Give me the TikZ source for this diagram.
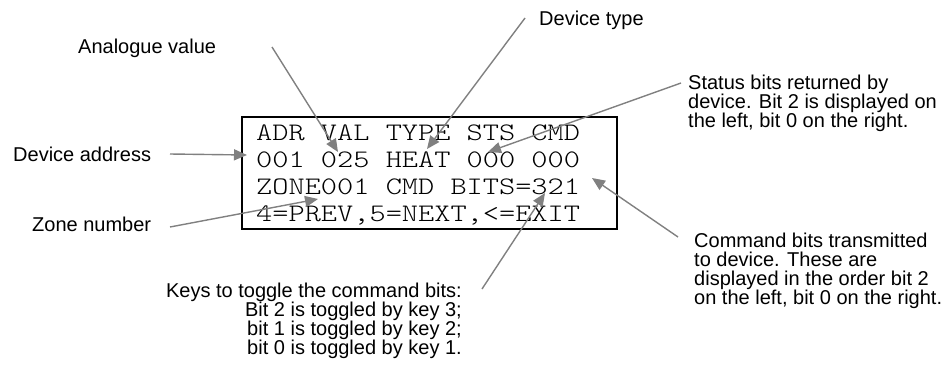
\documentclass[tikz,border=0pt]{standalone}
\usepackage{fontspec}
\setmainfont{Liberation Sans}
\usetikzlibrary{arrows.meta}
\definecolor{arrowgray}{HTML}{808080}
\newcommand\lcdline[1]{\scalebox{1.224}[1]{#1}}
\tikzset{
  lbl/.style={inner sep=0pt, font=\fontsize{20}{19}\selectfont},
  lcd/.style={inner sep=0pt, align=left, font=\fontseries{l}\ttfamily\fontsize{25.2}{27}\selectfont},
  pointer/.style={draw=arrowgray, line width=1.4pt, -{Triangle[length=13pt,width=11pt,fill=arrowgray]}},
  frame/.style={draw=black, line width=2pt}
}
\begin{document}
\begin{tikzpicture}[x=1pt,y=-1pt]
\useasboundingbox (0,0) rectangle (950,368);
% display frame
\draw[frame] (242,117) rectangle (617,229);
\node[lcd, anchor=base west] (screen) at (256,221)
  {\lcdline{ADR VAL TYPE STS CMD}\\\lcdline{001 025 HEAT 000 000}\\\lcdline{ZONE001 CMD BITS=321}\\\lcdline{4=PREV,5=NEXT,<=EXIT}};
% labels
\node[lbl, anchor=base west] (ana) at (78,53) {Analogue value};
\node[lbl, anchor=base west] (dtype) at (539,25) {Device type};
\node[lbl, anchor=base west, align=left] (sts) at (688,127)
  {Status bits returned by\\device. Bit 2 is displayed on\\the left, bit 0 on the right.};
\node[lbl, anchor=base west] (addr) at (13,161) {Device address};
\node[lbl, anchor=base west] (zone) at (32,231) {Zone number};
\node[lbl, anchor=base east, align=right] (keys) at (462,354)
  {Keys to toggle the command bits:\\Bit 2 is toggled by key 3;\\bit 1 is toggled by key 2;\\bit 0 is toggled by key 1.};
\node[lbl, anchor=base west, align=left] (cmd) at (694,304)
  {Command bits transmitted\\to device. These are\\displayed in the order bit 2\\on the left, bit 0 on the right.};
% connector ends
\coordinate (anaS) at (272,47);
\coordinate (anaT) at (338,152);
\coordinate (dtS) at (525,18);
\coordinate (dtT) at (427,149);
\coordinate (stsS) at (681,83);
\coordinate (stsT) at (488,152);
\coordinate (addrS) at (170,154);
\coordinate (addrT) at (247,155);
\coordinate (zoneS) at (170,227);
\coordinate (zoneT) at (318,199);
\coordinate (keysS) at (482,289);
\coordinate (keysT) at (545,193);
\coordinate (cmdS) at (678,237);
\coordinate (cmdT) at (592,178);
\draw[pointer] (anaS) -- (anaT);
\draw[pointer] (dtS) -- (dtT);
\draw[pointer] (stsS) -- (stsT);
\draw[pointer] (addrS) -- (addrT);
\draw[pointer] (zoneS) -- (zoneT);
\draw[pointer] (keysS) -- (keysT);
\draw[pointer] (cmdS) -- (cmdT);
\end{tikzpicture}
\end{document}
